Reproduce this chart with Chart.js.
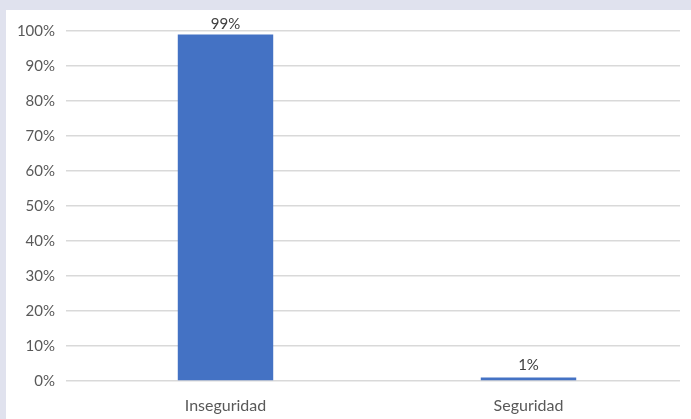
<!DOCTYPE html>
<html lang="es">
<head>
  <meta charset="UTF-8">
  <title>Inseguridad vs Seguridad</title>
  <script src="https://cdn.jsdelivr.net/npm/chart.js"></script>
  <style>
    body {
      margin: 0;
      background-color: #e0e2ee;
      overflow: hidden;
    }

    .chart-container {
      position: absolute;
      left: 6px;
      top: 10px;
      width: 685px;
      height: 409px;
      background: white;
    }
  </style>
</head>
<body>

  <div class="chart-container">
    <canvas id="grafico"></canvas>
  </div>

  <script>
    // datos
    const categorias = ['Inseguridad', 'Seguridad'];
    const porcentajes = [99, 1];
    const etiquetasY = [0, 10, 20, 30, 40, 50, 60, 70, 80, 90, 100];

    // etiquetas de valor encima de cada barra
    const etiquetasValor = {
      id: 'etiquetasValor',
      afterDatasetsDraw(chart) {
        const ctx = chart.ctx;
        const meta = chart.getDatasetMeta(0);
        ctx.save();
        ctx.font = '15px Lato, sans-serif';
        ctx.fillStyle = '#404040';
        ctx.textAlign = 'center';
        ctx.textBaseline = 'bottom';
        meta.data.forEach((bar, i) => {
          // no dejar que la etiqueta se salga por arriba
          const y = Math.max(bar.y - 5, chart.chartArea.top + 1);
          ctx.fillText(porcentajes[i] + '%', bar.x, y);
        });
        ctx.restore();
      }
    };

    new Chart(document.getElementById('grafico'), {
      type: 'bar',
      data: {
        labels: categorias,
        datasets: [{
          data: porcentajes,
          backgroundColor: '#4472c4',
          categoryPercentage: 1,
          barPercentage: 0.315
        }]
      },
      options: {
        responsive: true,
        maintainAspectRatio: false,
        animation: false,
        layout: { padding: { top: 21, right: 11, left: 0, bottom: 0 } },
        plugins: {
          legend: { display: false },
          tooltip: { enabled: false }
        },
        scales: {
          x: {
            grid: { display: false },
            border: { display: false },
            ticks: {
              color: '#595959',
              font: { family: 'Lato', size: 16 },
              padding: 7
            },
            afterFit(scale) { scale.height = 38; }
          },
          y: {
            min: 0,
            max: 100,
            afterBuildTicks(scale) {
              scale.ticks = etiquetasY.map(v => ({ value: v }));
            },
            grid: { color: '#d9d9d9', lineWidth: 1.5 },
            border: { display: false },
            ticks: {
              color: '#595959',
              font: { family: 'Lato', size: 15 },
              padding: 11,
              callback: v => v + '%'
            },
            afterFit(scale) { scale.width = 68; }
          }
        }
      },
      plugins: [etiquetasValor]
    });
  </script>

</body>
</html>
